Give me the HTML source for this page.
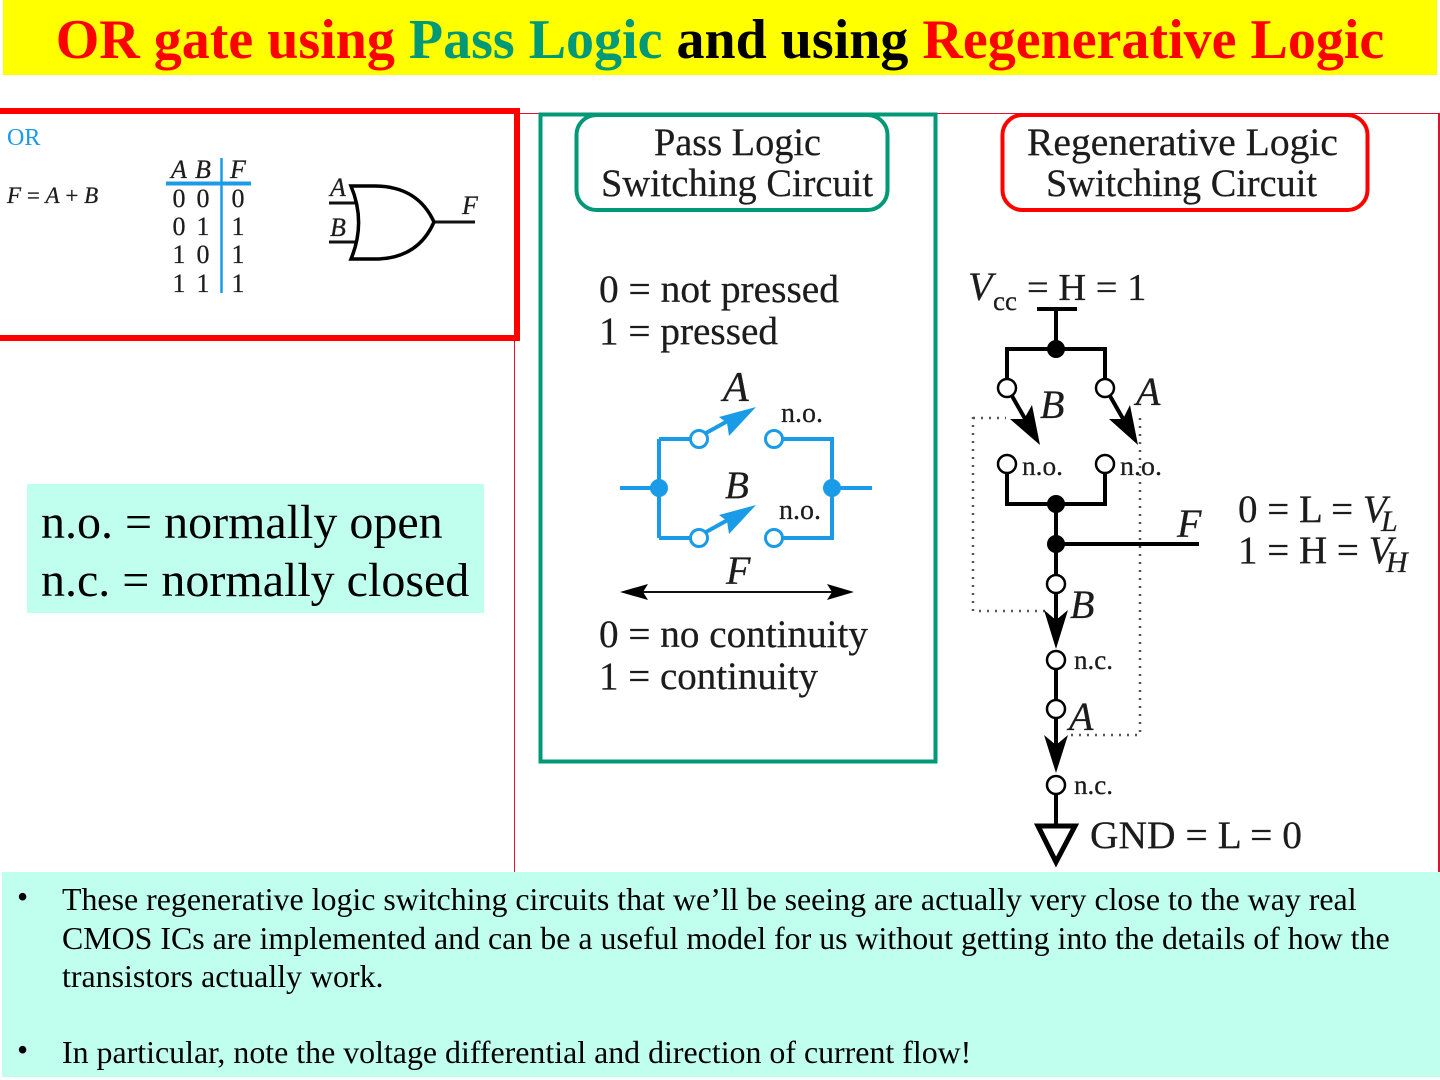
<!DOCTYPE html>
<html><head><meta charset="utf-8"><style>
html,body{margin:0;padding:0;background:#fff}
svg{display:block}
text{font-family:"Liberation Serif",serif;white-space:pre}
.i{font-style:italic}
.k{fill:#1c1c1c;stroke:#1c1c1c;stroke-width:.25px}
</style></head><body>
<svg width="1440" height="1080" viewBox="0 0 1440 1080" xmlns="http://www.w3.org/2000/svg">
<rect width="1440" height="1080" fill="#fff"/>
<rect x="3" y="0" width="1434" height="75" fill="#ffff00"/>
<text x="720" y="58" text-anchor="middle" font-size="56" font-weight="bold" fill="#ff0000">OR gate using <tspan fill="#009977">Pass Logic</tspan> <tspan fill="#000">and using</tspan> Regenerative Logic</text>

<path d="M514.5 872V113.5H1439" fill="none" stroke="#e01030" stroke-width="1"/>
<path d="M1439 113V872" fill="none" stroke="#e01030" stroke-width="2"/>

<!-- left box -->
<path d="M0 111H517V338H0" fill="none" stroke="#ff0000" stroke-width="6"/>
<text x="7" y="145" font-size="24" fill="#1a9be8">OR</text>
<text x="7" y="203" font-size="23" class="k"><tspan class="i">F</tspan> = <tspan class="i">A</tspan> + <tspan class="i">B</tspan></text>
<g font-size="26" class="k" text-anchor="middle">
<text x="179" y="178" class="i">A</text><text x="203" y="178" class="i">B</text><text x="238" y="178" class="i">F</text>
<text x="179" y="207">0</text><text x="203" y="207">0</text><text x="238" y="207">0</text>
<text x="179" y="235">0</text><text x="203" y="235">1</text><text x="238" y="235">1</text>
<text x="179" y="263">1</text><text x="203" y="263">0</text><text x="238" y="263">1</text>
<text x="179" y="292">1</text><text x="203" y="292">1</text><text x="238" y="292">1</text>
</g>
<path d="M221.500 158V293" stroke="#1a9be8" stroke-width="2.500"/>
<path d="M166 183.500H251" stroke="#1a9be8" stroke-width="4"/>
<path d="M329 203H356M329 242H356M434 222H475" stroke="#111" stroke-width="3" fill="none"/>
<path d="M351 186H375C405 186 424 200 434 222C424 245 405 259 375 259H351C361 235 361 210 351 186Z" fill="none" stroke="#000" stroke-width="3.500"/>
<g font-size="26" class="i k"><text x="330" y="196">A</text><text x="330" y="236">B</text><text x="462" y="214">F</text></g>

<!-- note box -->
<rect x="27" y="484" width="457" height="129" fill="#c0ffee"/>
<text x="41" y="538" font-size="48" fill="#000">n.o. = normally open</text>
<text x="41" y="596" font-size="48" fill="#000">n.c. = normally closed</text>

<!-- pass logic -->
<rect x="540.500" y="114.500" width="395" height="647" fill="none" stroke="#009977" stroke-width="4"/>
<rect x="576.500" y="115" width="311" height="95" rx="20" fill="#fff" stroke="#009977" stroke-width="4"/>
<g font-size="39" class="k">
<text x="654" y="155" textLength="167" lengthAdjust="spacingAndGlyphs">Pass Logic</text>
<text x="601" y="196" textLength="272" lengthAdjust="spacingAndGlyphs">Switching Circuit</text>
</g>
<g font-size="39" class="k">
<text x="599" y="302" textLength="240" lengthAdjust="spacingAndGlyphs">0 = not pressed</text>
<text x="599" y="344" textLength="179" lengthAdjust="spacingAndGlyphs">1 = pressed</text>
<text x="599" y="647" textLength="269" lengthAdjust="spacingAndGlyphs">0 = no continuity</text>
<text x="599" y="689" textLength="219" lengthAdjust="spacingAndGlyphs">1 = continuity</text>
</g>
<g fill="none" stroke="#1a9be8" stroke-width="4">
<path d="M620 488H659M659 439V538M659 439H690M659 538H690M783 439H832V538H783M832 488H872"/>
<path d="M706 433L735 417M706 532L735 516"/>
</g>
<g fill="#1a9be8"><circle cx="659" cy="488" r="9"/><circle cx="832" cy="488" r="9"/>
<path d="M756 407L719 417L727 423L729 436Z"/><path d="M756 505L719 515L727 521L729 534Z"/></g>
<g fill="#fff" stroke="#1a9be8" stroke-width="3">
<circle cx="699" cy="439" r="8.500"/><circle cx="774" cy="439" r="8.500"/><circle cx="699" cy="538" r="8.500"/><circle cx="774" cy="538" r="8.500"/>
</g>
<g class="i k"><text x="723" y="401" font-size="42">A</text><text x="725" y="498" font-size="39">B</text><text x="726" y="584" font-size="40">F</text></g>
<g font-size="28" class="k"><text x="781" y="422">n.o.</text><text x="779" y="519">n.o.</text></g>
<path d="M630 592H845" stroke="#111" stroke-width="2"/>
<path d="M620 592L648 584L643 592L648 600ZM854 592L827 584L832 592L827 600Z" fill="#000"/>

<!-- regenerative -->
<rect x="1002.500" y="115" width="365" height="95" rx="20" fill="#fff" stroke="#ff0000" stroke-width="4"/>
<g font-size="39" class="k">
<text x="1027" y="155" textLength="311" lengthAdjust="spacingAndGlyphs">Regenerative Logic</text>
<text x="1046" y="196" textLength="271" lengthAdjust="spacingAndGlyphs">Switching Circuit</text>
</g>
<path d="M973 417V611H1047M973 418H1006M1140 418V735H1068" fill="none" stroke="#555" stroke-width="2.500" stroke-dasharray="2 6"/>
<text x="968" y="300" font-size="40" class="i k">V</text>
<text x="993" y="310" font-size="27" class="k">cc</text>
<text x="1027" y="300" font-size="38.500" class="k">= H = 1</text>
<g fill="none" stroke="#000" stroke-width="4">
<path d="M1037 309H1077M1056 309V349M1007 380V349H1105V380"/>
<path d="M1007 472V504H1105V472M1056 504V576M1056 544H1199"/>
<path d="M1056 592V625M1056 668V700M1056 717V750M1056 793V826"/>
<path d="M1012 396L1028 424M1110 396L1126 424"/>
<path d="M1038 826H1075L1056 862Z" stroke-width="5" stroke-linejoin="miter"/>
</g>
<g fill="#000">
<circle cx="1056" cy="349" r="9"/><circle cx="1056" cy="504" r="9"/><circle cx="1056" cy="544" r="9"/>
<path d="M1040 445L1010 419L1024 419L1032 405Z"/><path d="M1138 445L1109 419L1123 419L1130 405Z"/>
<path d="M1056 649L1044 610L1056 620L1068 610Z"/><path d="M1056 773L1044 735L1056 745L1068 735Z"/>
</g>
<g fill="#fff" stroke="#000" stroke-width="2.500">
<circle cx="1007" cy="388" r="9"/><circle cx="1105" cy="388" r="9"/>
<circle cx="1007" cy="464" r="9"/><circle cx="1105" cy="464" r="9"/>
<circle cx="1056" cy="584" r="9"/><circle cx="1056" cy="660" r="9"/>
<circle cx="1056" cy="709" r="9"/><circle cx="1056" cy="785" r="9"/>
</g>
<g font-size="40" class="i k">
<text x="1040" y="418">B</text><text x="1136" y="405">A</text><text x="1177" y="537">F</text>
<text x="1070" y="618">B</text><text x="1069" y="730">A</text>
</g>
<g font-size="27" class="k">
<text x="1022" y="475" textLength="41" lengthAdjust="spacingAndGlyphs">n.o.</text><text x="1120" y="475" textLength="42" lengthAdjust="spacingAndGlyphs">n.o.</text>
<text x="1074" y="669">n.c.</text><text x="1074" y="794">n.c.</text>
</g>
<text x="1090" y="848" font-size="39.500" class="k">GND = L = 0</text>
<g font-size="39" class="k">
<text x="1238" y="522">0 = L = <tspan class="i">V</tspan></text>
<text x="1238" y="563">1 = H = <tspan class="i">V</tspan></text>
</g>
<g font-size="30" class="i k"><text x="1381" y="531">L</text><text x="1386" y="572">H</text></g>

<!-- bottom -->
<rect x="2" y="872" width="1438" height="205" fill="#c0ffee"/>
<g font-size="31.900" fill="#000">
<text x="17" y="907">•</text>
<text x="62" y="910">These regenerative logic switching circuits that we’ll be seeing are actually very close to the way real</text>
<text x="62" y="949">CMOS ICs are implemented and can be a useful model for us without getting into the details of how the</text>
<text x="62" y="987">transistors actually work.</text>
<text x="17" y="1060">•</text>
<text x="62" y="1063">In particular, note the voltage differential and direction of current flow!</text>
</g>
</svg>
</body></html>
